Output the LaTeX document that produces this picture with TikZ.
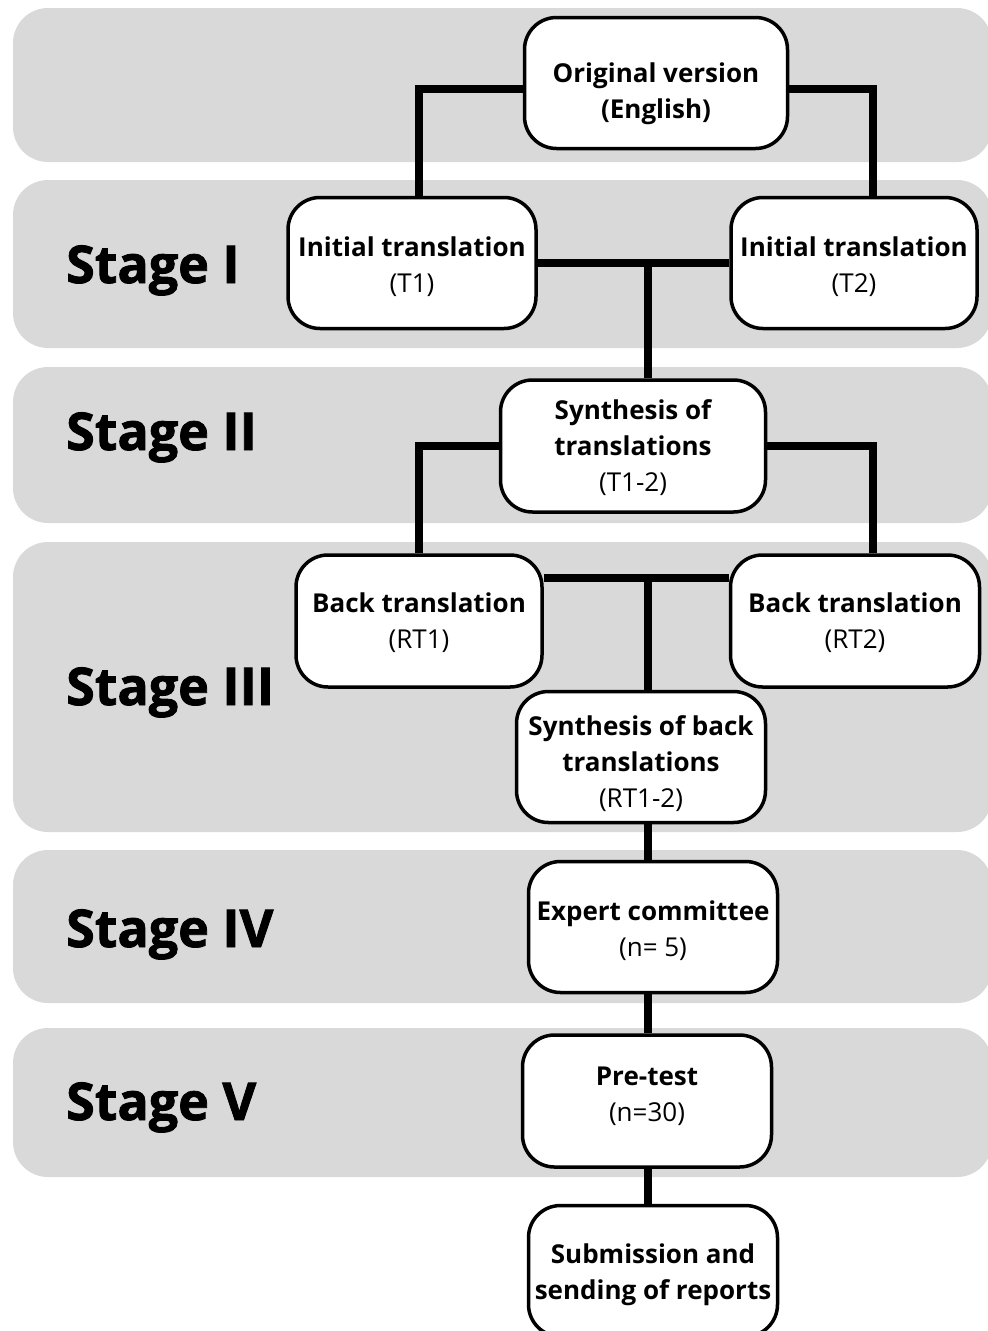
\documentclass[tikz,border=0pt]{standalone}
\usepackage{fontspec}
\setmainfont{Open Sans}
\newfontfamily\stagefont{Open Sans}[BoldFeatures={FakeBold=1.6}]
\usetikzlibrary{backgrounds,calc}
\definecolor{bandgray}{HTML}{D9D9D9}
\newcommand\tpad[1]{\rule{0pt}{#1}}
\newcommand\bpad[1]{\rule[-#1]{0pt}{#1}}
\begin{document}
\begin{tikzpicture}[x=1pt,y=-1pt,
  box/.style={draw=black,line width=3.5pt,fill=white,rounded corners=32pt,align=center,inner sep=0pt,font=\fontsize{26}{36}\selectfont},
  conn/.style={line width=8pt,draw=black},
  bandbox/.style={fill=bandgray,rounded corners=35pt},
  stagelbl/.style={anchor=base west,font=\fontsize{52}{60}\selectfont\stagefont\bfseries,inner sep=0pt}]
\useasboundingbox (0,0) rectangle (988,1331);

\node[box,minimum width=263pt,minimum height=131pt] (orig) at (656,83) {\tpad{42pt}\bfseries Original version\\\bfseries (English)};
\node[box,minimum width=248pt,minimum height=131pt] (t1) at (412,263) {\tpad{28pt}\bfseries Initial translation\\(T1)};
\node[box,minimum width=246pt,minimum height=131pt] (t2) at (854,263) {\tpad{28pt}\bfseries Initial translation\\(T2)};
\node[box,minimum width=265pt,minimum height=132pt] (s1) at (633,446) {\tpad{24pt}\bfseries Synthesis of\\\bfseries translations\\(T1-2)};
\node[box,minimum width=246pt,minimum height=132pt] (b1) at (419,621) {\tpad{24pt}\bfseries Back translation\\(RT1)};
\node[box,minimum width=249pt,minimum height=132pt] (b2) at (855,621) {\tpad{24pt}\bfseries Back translation\\(RT2)};
\node[box,minimum width=249pt,minimum height=131pt] (sb) at (641,757) {\tpad{34pt}\bfseries Synthesis of back\\\bfseries translations\\(RT1-2)};
\node[box,minimum width=249pt,minimum height=131pt] (ex) at (653,927) {\tpad{28pt}\bfseries Expert committee\\(n= 5)};
\node[box,minimum width=249pt,minimum height=132pt] (pt) at (647,1101) {\bfseries Pre-test\\(n=30)\bpad{14pt}};
\node[box,minimum width=249pt,minimum height=131pt] (sub) at (653,1271) {\tpad{28pt}\bfseries Submission and\\\bfseries sending of reports};

\node[stagelbl] (st1) at (66,283) {Stage I};
\node[stagelbl] (st2) at (66,450) {Stage II};
\node[stagelbl] (st3) at (66,705) {Stage III};
\node[stagelbl] (st4) at (66,947) {Stage IV};
\node[stagelbl] (st5) at (66,1120) {Stage V};

\begin{scope}[on background layer]
\fill[bandbox] (13,8) rectangle (992,162);
\fill[bandbox] (13,180) rectangle (992,348);
\fill[bandbox] (13,367) rectangle (992,523);
\fill[bandbox] (13,542) rectangle (992,832);
\fill[bandbox] (13,850) rectangle (992,1003);
\fill[bandbox] (13,1028) rectangle (992,1177);

\coordinate (L) at (419,0);
\coordinate (R) at (873,0);
\coordinate (M) at (648,0);
\coordinate (J) at (648,578);
\draw[conn] ([yshift=-6pt]orig.west) -| (L |- t1.north);
\draw[conn] ([yshift=-6pt]orig.east) -| (R |- t2.north);
\draw[conn] (t1.east) -- (t2.west);
\draw[conn] (M |- t1.east) -- (M |- s1.north);
\draw[conn] (s1.west) -| (L |- b1.north);
\draw[conn] (s1.east) -| (R |- b2.north);
\draw[conn] (J -| b1.east) -- (J -| b2.west);
\draw[conn] (J) -- (J |- sb.north);
\draw[conn] (M |- sb.south) -- (M |- ex.north);
\draw[conn] (M |- ex.south) -- (M |- pt.north);
\draw[conn] (M |- pt.south) -- (M |- sub.north);
\end{scope}
\end{tikzpicture}
\end{document}
